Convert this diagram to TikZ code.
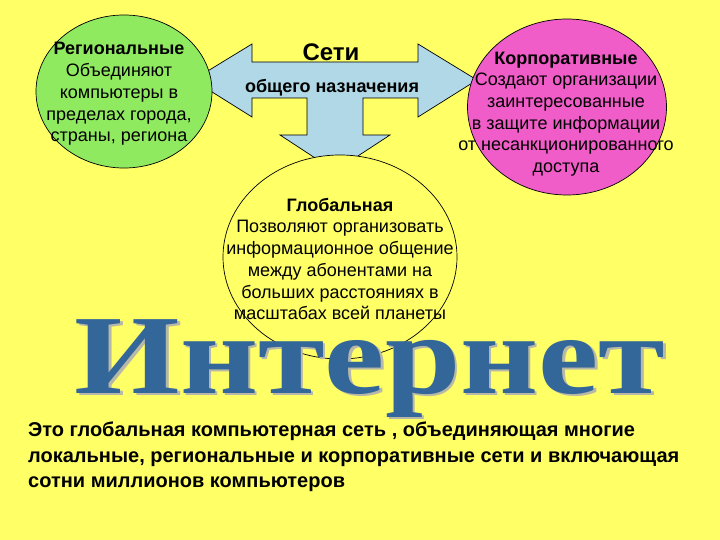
\documentclass[tikz,border=0pt]{standalone}
\usepackage{graphicx}
\usepackage{fontspec}
\setmainfont{Liberation Sans}
\newfontfamily\bigserif{Liberation Serif}
\usetikzlibrary{shapes.geometric}
\definecolor{bgyellow}{HTML}{FFFF66}
\definecolor{regreen}{HTML}{90EA60}
\definecolor{corppink}{HTML}{F05CC8}
\definecolor{arrowblue}{HTML}{B0D8E6}
\definecolor{inetblue}{HTML}{336699}
\definecolor{inetshade}{HTML}{B8B8A8}

\begin{document}
\begin{tikzpicture}[x=1pt,y=-1pt,
  blob/.style={shape=ellipse, draw, line width=0.7pt, inner sep=0pt},
  txt/.style={align=center, inner sep=0pt, font=\fontsize{18}{21.7}\selectfont}]
%[line width=0.7pt]
\useasboundingbox (0,0) rectangle (720,540);
\fill[bgyellow] (0,0) rectangle (720,540);

% the three-way arrow
\path[fill=arrowblue, draw, line width=0.7pt]
  (193,80) -- (252,44) -- (252,62) -- (418,62) -- (418,44) -- (477,80)
  -- (418,117) -- (418,98) -- (363,98) -- (363,135) -- (390,135)
  -- (335,171) -- (280,135) -- (307,135) -- (307,98) -- (252,98)
  -- (252,117) -- cycle;
\path (331,52) node (seti) [inner sep=0pt, font=\bfseries\fontsize{24}{24}\selectfont] {Сети};
\path (332,88) node (naz) [inner sep=0pt, font=\bfseries\fontsize{18}{18}\selectfont] {общего назначения};

\path (124,91.5) node (reg) [blob, fill=regreen, minimum width=176pt, minimum height=153pt] {};
\path (567,107) node (corp) [blob, fill=corppink, minimum width=199pt, minimum height=176pt] {};
\path (340,257) node (glob) [blob, fill=bgyellow, minimum width=234pt, minimum height=204pt] {};

\path (119,94) node (regtext) [txt] {\textbf{Региональные}\\Объединяют\\компьютеры в\\пределах города,\\страны, региона};
\path (566,114) node (corptext) [txt] {\textbf{Корпоративные}\\Создают организации\\заинтересованные\\в защите информации\\от несанкционированного\\доступа};
\path (340,259) node (globtext) [txt] {\textbf{Глобальная}\\Позволяют организовать\\информационное общение\\между абонентами на\\больших расстояниях в\\масштабах всей планеты};

\path (372.5,395.5) node (inetshadow) [anchor=base, inner sep=0pt, text=inetshade, font=\bigserif\bfseries\fontsize{120}{120}\selectfont] {\scalebox{1.13}[0.94]{Интернет}};
\path (370,393) node (inet) [anchor=base, inner sep=0pt, text=inetblue, font=\bigserif\bfseries\fontsize{120}{120}\selectfont] {\scalebox{1.13}[0.94]{Интернет}};

\path (28,422) node (note) [anchor=north west, align=left, inner sep=0pt, font=\bfseries\fontsize{20}{25.5}\selectfont]
  {Это глобальная компьютерная сеть , объединяющая многие\\локальные, региональные и корпоративные сети и включающая\\сотни миллионов компьютеров};

\end{tikzpicture}
\end{document}
